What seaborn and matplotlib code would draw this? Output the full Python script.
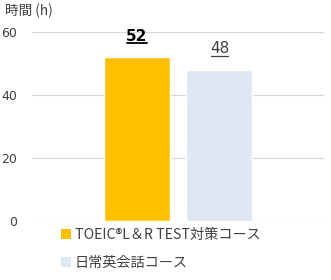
import matplotlib
matplotlib.use("Agg")
import matplotlib.pyplot as plt
import seaborn as sns
import pandas as pd
from matplotlib.lines import Line2D
from matplotlib.patches import Patch

courses = ["TOEIC®L＆R TEST対策コース", "日常英会話コース"]
hours = [52, 48]
colors = ["#FFC000", "#DDE8F4"]
yticks = [0, 20, 40, 60]
ylabel = "時間 (h)"

sns.set_theme(style="white")
plt.rcParams['font.family'] = ['Noto Sans CJK JP', 'DejaVu Sans']

df = pd.DataFrame({"group": ["", ""], "course": courses, "hours": hours})

fig = plt.figure(figsize=(3.31, 2.80), dpi=100)
ax = fig.add_axes([32/331, 1-221/280, 292/331, 189/280])

sns.barplot(data=df, x="group", y="hours", hue="course", palette=colors,
            width=0.568, gap=0.204, ax=ax, legend=False, saturation=1)

ax.set_xlim(-0.5, 0.5)
ax.set_ylim(0, 60)
ax.set_yticks(yticks)
ax.set_yticklabels([str(t) for t in yticks], fontsize=9, color="#404040",
                   family="DejaVu Sans")
ax.set_xticks([])
ax.set_xlabel("")
ax.set_ylabel("")
ax.tick_params(axis="y", length=0, pad=10.5)
ax.grid(axis="y", color="#D9D9D9", linewidth=0.9)
ax.set_axisbelow(True)
for s in ax.spines.values():
    s.set_visible(False)

fig.text(5/331, 1-11/280, ylabel, fontsize=9.8, color="#404040", va="center", ha="left")

fig.canvas.draw()
renderer = fig.canvas.get_renderer()
weights = ["bold", "normal"]
for patch, val, w in zip(ax.patches, hours, weights):
    cx = patch.get_x() + patch.get_width() / 2
    t = ax.annotate(str(val), (cx, val), xytext=(0, 12), textcoords="offset points",
                    ha="center", va="baseline", fontsize=11, fontweight=w,
                    family="DejaVu Sans",
                    color="#000000" if w == "bold" else "#404040")
    fig.canvas.draw()
    bb = t.get_window_extent(renderer).transformed(fig.transFigure.inverted())
    yline = bb.y0 + 0.5 / 280
    fig.add_artist(Line2D([bb.x0 + 0.002, bb.x1 - 0.002], [yline, yline],
                          transform=fig.transFigure, color=t.get_color(),
                          linewidth=1.3 if w == "bold" else 0.9))

handles = [Patch(facecolor=c, edgecolor="none") for c in colors]
fig.legend(handles, courses, loc="upper left", bbox_to_anchor=(61/331, 1-228/280),
           frameon=False, fontsize=10.2, handlelength=0.68, handleheight=0.68,
           handletextpad=0.3, labelspacing=1.0, labelcolor="#404040",
           borderaxespad=0, borderpad=0)

fig.savefig("out.png", dpi=100)
